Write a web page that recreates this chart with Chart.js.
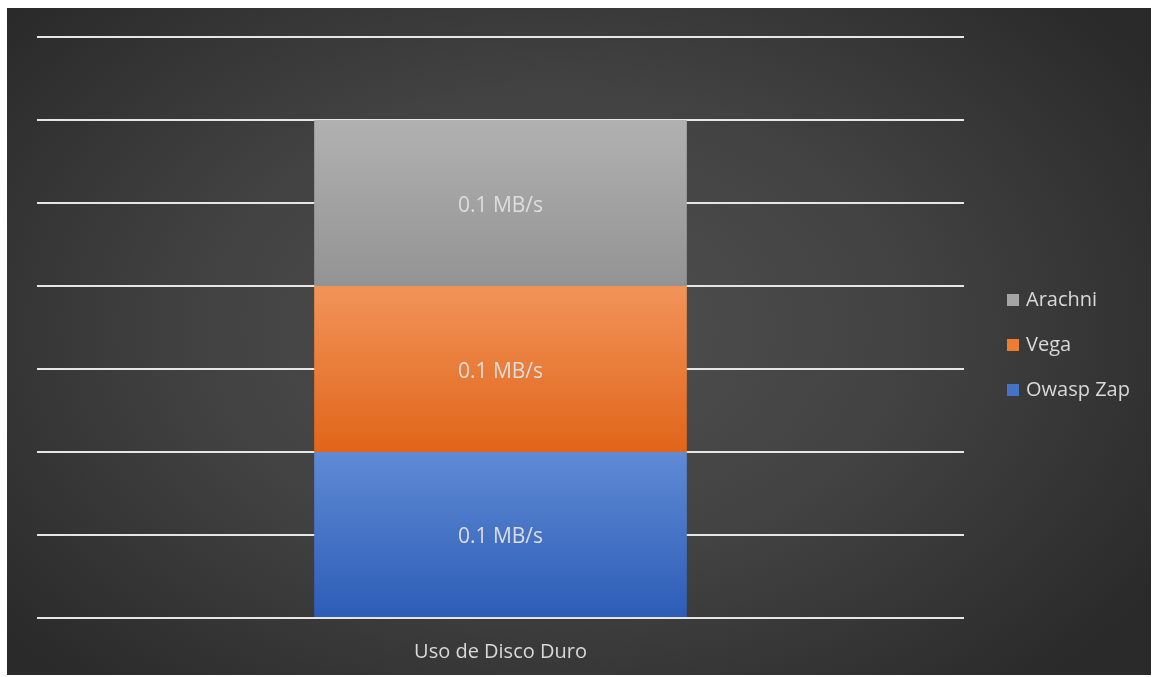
<!DOCTYPE html>
<html>
<head>
<meta charset="utf-8">
<script src="https://cdn.jsdelivr.net/npm/chart.js@4.4.0/dist/chart.umd.min.js"></script>
<style>
  html, body { margin: 0; padding: 0; background: #ffffff; }
  #wrap {
    position: absolute; left: 7px; top: 8px; width: 1144px; height: 667px;
    background: radial-gradient(ellipse 62% 72% at 48% 48%, #505050 0%, #424242 50%, #2a2a2a 100%);
  }
</style>
</head>
<body>
<div id="wrap"><canvas id="disk" width="1144" height="667"></canvas></div>
<script>
// categories and series
const categories = ["Uso de Disco Duro"];
const owaspZap = [0.1];
const vega = [0.1];
const arachni = [0.1];
const unit = "MB/s";

// vertical gradient over one stacked segment, computed from the y scale
function vGrad(top, bottom) {
  return (ctx) => {
    const chart = ctx.chart;
    const y = chart.scales.y;
    if (!y || !chart.chartArea) return bottom;
    let base = 0;
    for (let i = 0; i < ctx.datasetIndex; i++) base += chart.data.datasets[i].data[ctx.dataIndex];
    const val = chart.data.datasets[ctx.datasetIndex].data[ctx.dataIndex];
    const y0 = y.getPixelForValue(base + val);
    const y1 = y.getPixelForValue(base);
    if (!isFinite(y0) || !isFinite(y1) || y0 === y1) return bottom;
    const g = chart.ctx.createLinearGradient(0, y0, 0, y1);
    g.addColorStop(0, top);
    g.addColorStop(1, bottom);
    return g;
  };
}

const legendColors = { "Arachni": "#a5a5a5", "Vega": "#ed7d31", "Owasp Zap": "#4472c4" };

// value labels inside each segment
const segmentLabels = {
  id: "segmentLabels",
  afterDatasetsDraw(chart) {
    const c = chart.ctx;
    c.save();
    c.font = "21px 'Open Sans'";
    c.fillStyle = "#dedede";
    c.textAlign = "center";
    c.textBaseline = "middle";
    chart.data.datasets.forEach((ds, i) => {
      chart.getDatasetMeta(i).data.forEach((el, j) => {
        c.fillText(ds.data[j] + " " + unit, el.x, (el.y + el.base) / 2 + 3);
      });
    });
    c.restore();
  }
};

// legend on the right, top item = top of the stack
const sideLegend = {
  id: "sideLegend",
  afterDraw(chart) {
    const c = chart.ctx;
    const items = chart.data.datasets.map(d => d.label).reverse();
    c.save();
    c.font = "20px 'Open Sans'";
    c.textBaseline = "middle";
    items.forEach((name, i) => {
      const y = 292 + i * 45;
      c.fillStyle = legendColors[name];
      c.fillRect(1000, y - 6, 12, 12);
      c.fillStyle = "#d9d9d9";
      c.fillText(name, 1019, y);
    });
    c.restore();
  }
};

new Chart(document.getElementById("disk"), {
  type: "bar",
  data: {
    labels: categories,
    datasets: [
      { label: "Owasp Zap", data: owaspZap, backgroundColor: vGrad("#5f8ad4", "#2c5cb6") },
      { label: "Vega", data: vega, backgroundColor: vGrad("#f19459", "#e1651a") },
      { label: "Arachni", data: arachni, backgroundColor: vGrad("#b1b1b1", "#939393") }
    ]
  },
  options: {
    responsive: false,
    animation: false,
    layout: { padding: { left: 30, right: 187, top: 29, bottom: 0 } },
    datasets: { bar: { categoryPercentage: 1, barPercentage: 0.402, borderWidth: 0 } },
    plugins: { legend: { display: false }, tooltip: { enabled: false } },
    scales: {
      x: {
        stacked: true,
        grid: { display: false, drawTicks: false },
        border: { display: false },
        ticks: { color: "#d9d9d9", padding: 22, font: { family: "'Open Sans'", size: 20 } },
        afterFit: (scale) => { scale.height = 57; }
      },
      y: {
        stacked: true,
        min: 0, max: 0.35,
        grid: { color: "#e6e6e6", lineWidth: 2, drawTicks: false },
        border: { display: false },
        ticks: { display: false, stepSize: 0.05 }
      }
    }
  },
  plugins: [segmentLabels, sideLegend]
});
</script>
</body>
</html>
